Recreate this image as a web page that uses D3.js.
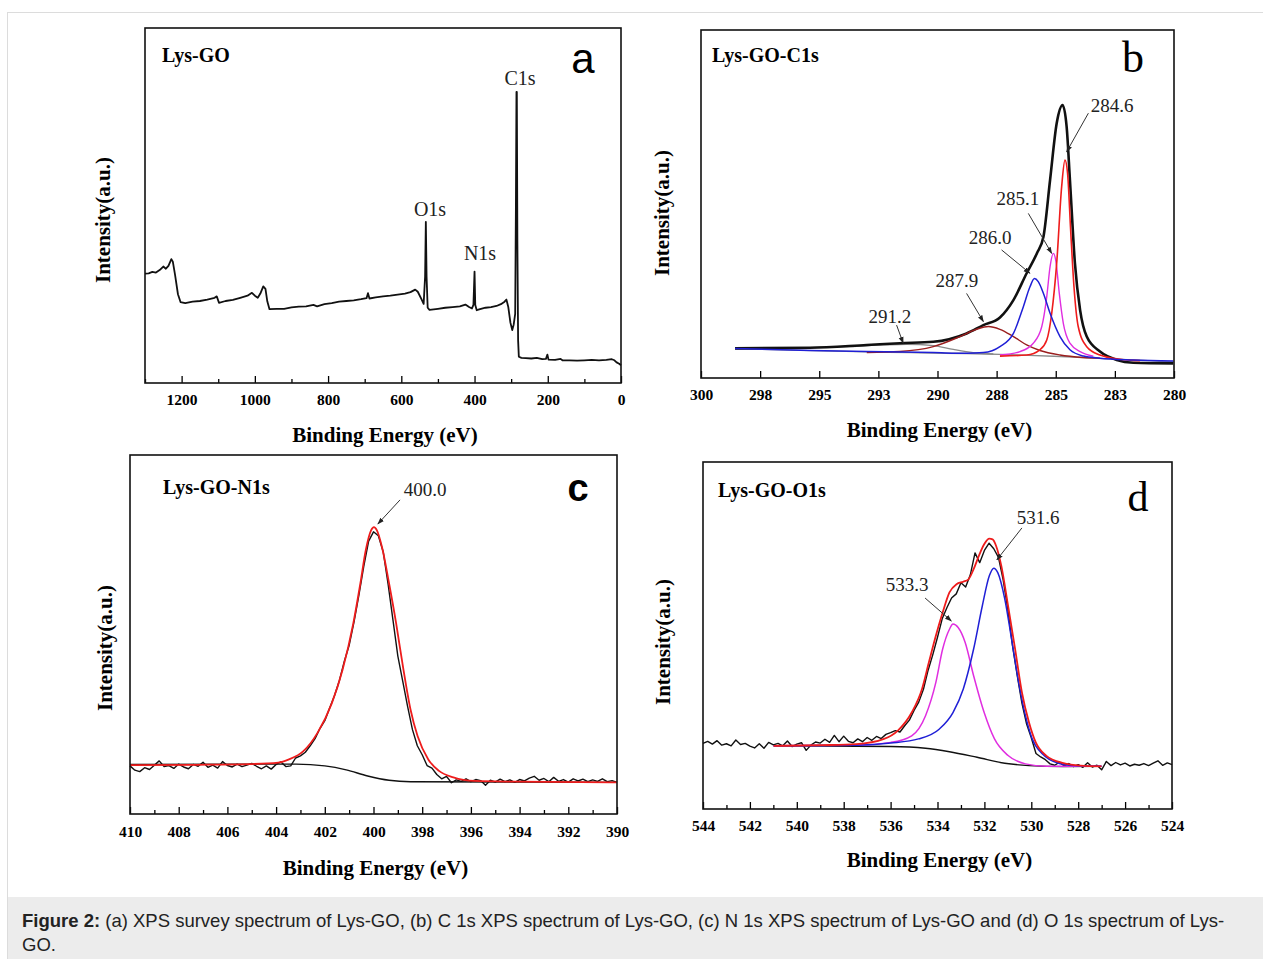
<!DOCTYPE html>
<html>
<head>
<meta charset="utf-8">
<script src="https://cdn.jsdelivr.net/npm/d3@7"></script>
<style>
  body { margin: 0; background: #fff; }
</style>
</head>
<body>
<div id="chart"></div>
<script>
// ---- data (eV, intensity in % of frame height) ----

// (a) survey spectrum
var surveyData = [
  [1300, 30.8], [1290, 30.9], [1280, 31.3], [1270, 31.1], [1260, 31.8], [1250, 32.8], [1243, 32.2],
  [1236, 33.0], [1228, 34.9], [1224, 34.2], [1218, 30.5], [1210, 25.0], [1203, 22.8], [1190, 22.5],
  [1170, 22.9], [1150, 23.1], [1130, 23.5], [1110, 24.0], [1104, 24.4], [1098, 22.6], [1080, 23.1],
  [1060, 23.4], [1040, 24.0], [1020, 24.6], [1008, 25.4], [1000, 24.6], [992, 24.0], [985, 25.2],
  [977, 27.2], [971, 26.5], [966, 23.0], [960, 20.8], [940, 20.9], [920, 20.9], [900, 21.3],
  [880, 21.5], [860, 21.6], [840, 22.0], [830, 21.6], [810, 22.2], [790, 22.5], [770, 22.9],
  [750, 23.1], [730, 23.3], [710, 23.6], [695, 23.9], [691, 25.3], [687, 23.8], [670, 24.1],
  [650, 24.4], [630, 24.6], [610, 24.9], [590, 25.2], [575, 25.6], [562, 26.3], [555, 25.7],
  [545, 23.6], [539, 22.3], [535, 30.0], [533, 45.4], [531, 30.0], [528, 21.2], [523, 20.6],
  [500, 20.9], [480, 21.2], [460, 21.4], [440, 21.6], [425, 22.1], [415, 21.4], [407, 21.0],
  [403, 22.0], [400, 31.4], [398, 22.0], [394, 20.5], [385, 20.8], [370, 21.2], [355, 21.4],
  [340, 21.7], [328, 22.2], [318, 22.9], [313, 23.5], [308, 21.5], [302, 17.0], [297, 14.9],
  [293, 16.5], [289, 19.5], [287, 50.0], [285.5, 82.0], [284.5, 82.0], [283, 40.0], [281, 12.0],
  [279, 7.4], [272, 7.1], [260, 7.0], [245, 6.9], [230, 7.1], [215, 6.7], [205, 6.8], [201, 8.0],
  [198, 6.6], [180, 6.5], [165, 6.8], [160, 6.4], [140, 6.4], [120, 6.3], [100, 6.4], [80, 6.5],
  [60, 6.4], [40, 6.5], [25, 6.7], [18, 6.4], [12, 5.8], [5, 5.4], [0, 5.0]
];
var surveyPeaks = ["C1s", "O1s", "N1s"];
var surveyTicks = [1200, 1000, 800, 600, 400, 200, 0];
var surveyMinor = [1300, 1100, 900, 700, 500, 300, 100];

// (b) C 1s
var c1sRaw = [
  [298.56, 8.5], [295.39, 8.7], [292.99, 9.5], [291.59, 10.0], [290.18, 10.4], [288.77, 12.8],
  [288.06, 15.2], [287.36, 17.4], [286.79, 22.4], [286.23, 30.1], [285.80, 35.8], [285.52, 40.6],
  [285.24, 56.9], [284.96, 73.2], [284.71, 78.4], [284.54, 72.2], [284.40, 56.9], [284.19, 33.0],
  [283.97, 19.5], [283.69, 11.9], [283.13, 7.6], [282.42, 5.2], [281.72, 4.4], [280.03, 4.2]
];
var c1sBg = [[298.56, 8.4], [292.99, 7.5], [287.36, 6.8], [284.54, 6.1], [282.42, 5.4], [280.03, 4.6]];
var c1s291 = [
  [295.39, 8.7], [293.70, 9.0], [292.29, 9.5], [291.31, 9.7], [290.18, 9.3], [289.33, 8.2],
  [288.49, 7.3], [287.64, 6.9]
];
var c1s287 = [
  [292.99, 7.3], [291.59, 7.6], [290.18, 9.0], [289.05, 11.9], [288.35, 14.0], [287.85, 14.8],
  [287.36, 14.0], [286.79, 11.9], [286.23, 9.5], [285.67, 7.9], [284.82, 6.6], [283.83, 5.9], [283.13, 5.7]
];
var c1s286 = [
  [298.56, 8.5], [295.39, 7.9], [292.99, 7.6], [290.18, 7.3], [288.77, 7.1], [288.06, 7.3],
  [287.36, 9.0], [286.79, 12.8], [286.37, 20.5], [286.09, 26.2], [285.90, 28.6], [285.74, 27.7],
  [285.52, 24.3], [285.24, 18.6], [284.82, 11.9], [284.40, 8.1], [283.83, 6.3], [283.13, 5.7],
  [281.72, 5.2], [280.03, 4.9]
];
var c1s285 = [
  [287.36, 6.6], [286.51, 7.6], [285.95, 10.0], [285.59, 14.8], [285.38, 23.4], [285.24, 32.0],
  [285.10, 35.8], [284.99, 33.4], [284.85, 24.3], [284.68, 15.7], [284.40, 10.0], [283.97, 7.6], [283.41, 6.3]
];
var c1s284 = [
  [287.36, 6.3], [286.23, 6.6], [285.67, 8.1], [285.38, 10.9], [285.17, 18.6], [284.96, 33.0],
  [284.75, 55.0], [284.61, 62.6], [284.50, 58.8], [284.37, 42.5], [284.23, 26.3], [284.05, 14.8],
  [283.69, 9.0], [283.13, 6.6], [282.28, 5.4], [281.44, 5.0]
];
var c1sLabels = ["284.6", "285.1", "286.0", "287.9", "291.2"];
var c1sTicks = [300, 297.5, 295, 292.5, 290, 287.5, 285, 282.5, 280];

// (c) N 1s
var n1sRaw = [
  [410.0, 13.4], [409.8, 12.2], [409.6, 11.8], [409.4, 12.9], [409.2, 12.4], [409.0, 13.6],
  [408.8, 14.8], [408.6, 13.2], [408.4, 13.5], [408.2, 12.7], [408.0, 13.9], [407.8, 13.1],
  [407.6, 12.6], [407.4, 13.8], [407.2, 13.3], [407.0, 14.4], [406.8, 13.0], [406.6, 13.6],
  [406.4, 12.8], [406.2, 14.6], [406.0, 13.5], [405.8, 13.1], [405.6, 13.9], [405.4, 13.2],
  [405.2, 13.6], [405.0, 14.1], [404.8, 13.3], [404.6, 12.6], [404.4, 13.4], [404.2, 12.5],
  [404.0, 13.8], [403.8, 14.5], [403.6, 13.2], [403.4, 13.4], [403.2, 15.6], [403.0, 16.2],
  [402.8, 17.2], [402.6, 19.0], [402.4, 21.0], [402.2, 23.8], [402.0, 26.0], [401.8, 29.5],
  [401.6, 33.0], [401.4, 37.2], [401.2, 42.5], [401.0, 47.0], [400.8, 53.5], [400.6, 61.0],
  [400.4, 69.0], [400.2, 76.0], [400.0, 78.6], [399.8, 77.5], [399.6, 73.0], [399.4, 64.0],
  [399.2, 54.0], [399.0, 44.0], [398.8, 37.0], [398.6, 30.0], [398.4, 23.5], [398.2, 19.0],
  [398.0, 16.5], [397.8, 13.5], [397.6, 12.8], [397.4, 11.0], [397.2, 9.8], [397.0, 10.5],
  [396.8, 8.7], [396.6, 9.5], [396.4, 9.1], [396.2, 9.8], [396.0, 9.0], [395.8, 9.6],
  [395.6, 9.3], [395.4, 8.0], [395.2, 9.4], [395.0, 8.9], [394.8, 9.7], [394.6, 9.0],
  [394.4, 9.5], [394.2, 8.8], [394.0, 9.6], [393.8, 9.2], [393.6, 10.0], [393.4, 10.5],
  [393.2, 9.4], [393.0, 9.9], [392.8, 9.0], [392.6, 10.2], [392.4, 9.1], [392.2, 9.6],
  [392.0, 8.9], [391.8, 9.8], [391.6, 9.2], [391.4, 9.7], [391.2, 9.0], [391.0, 9.5],
  [390.8, 9.1], [390.6, 9.8], [390.4, 9.0], [390.2, 9.3], [390.0, 8.8]
];
var n1sFit = [
  [410.0, 13.6], [407.29, 13.7], [405.08, 13.9], [403.91, 14.3], [403.47, 15.2], [402.88, 17.5],
  [402.30, 22.6], [401.71, 30.9], [401.27, 40.2], [400.83, 53.1], [400.54, 64.2], [400.32, 73.4],
  [400.10, 79.0], [399.98, 79.9], [399.86, 79.0], [399.65, 74.3], [399.36, 64.2], [399.07, 53.1],
  [398.77, 40.2], [398.48, 29.1], [398.19, 21.7], [397.75, 15.2], [397.31, 12.0], [396.72, 10.2],
  [395.84, 9.2], [394.08, 9.0], [390.0, 8.8]
];
var n1sBg = [[410.0, 13.8], [403.18, 13.9], [402.0, 13.4], [401.12, 12.3], [400.24, 10.6], [399.36, 9.4], [398.48, 9.0], [390.0, 8.8]];
var n1sLabels = ["400.0"];
var n1sTicks = [410, 408, 406, 404, 402, 400, 398, 396, 394, 392, 390];
var n1sMinor = [409, 407, 405, 403, 401, 399, 397, 395, 393, 391];

// (d) O 1s
var o1sRaw = [
  [544.0, 18.9], [543.8, 19.5], [543.6, 18.7], [543.4, 19.7], [543.2, 18.4], [543.0, 18.8],
  [542.8, 18.2], [542.6, 19.9], [542.4, 18.6], [542.2, 18.9], [542.0, 18.1], [541.8, 17.6],
  [541.6, 18.8], [541.4, 17.5], [541.2, 19.2], [541.0, 18.5], [540.8, 18.9], [540.6, 18.2],
  [540.4, 19.6], [540.2, 18.0], [540.0, 18.7], [539.8, 19.1], [539.6, 16.9], [539.4, 18.4],
  [539.2, 19.3], [539.0, 19.0], [538.8, 20.1], [538.6, 19.2], [538.4, 21.2], [538.2, 19.4],
  [538.0, 21.0], [537.8, 19.5], [537.6, 19.1], [537.4, 20.2], [537.2, 19.4], [537.0, 20.6],
  [536.8, 19.8], [536.6, 20.9], [536.4, 20.3], [536.2, 21.5], [536.0, 22.0], [535.8, 22.6],
  [535.6, 22.2], [535.4, 24.0], [535.2, 25.6], [535.0, 28.4], [534.8, 30.8], [534.6, 34.5],
  [534.4, 40.0], [534.2, 44.5], [534.0, 49.5], [533.8, 54.8], [533.6, 58.0], [533.4, 60.8],
  [533.2, 62.0], [533.0, 65.2], [532.8, 64.0], [532.6, 67.5], [532.4, 73.8], [532.2, 71.0],
  [532.0, 74.5], [531.8, 76.6], [531.6, 75.0], [531.4, 72.5], [531.2, 66.0], [531.0, 57.5],
  [530.8, 47.0], [530.6, 38.5], [530.4, 30.5], [530.2, 24.5], [530.0, 20.5], [529.8, 16.0],
  [529.6, 15.0], [529.4, 14.2], [529.2, 13.0], [529.0, 12.6], [528.8, 13.5], [528.6, 12.4],
  [528.4, 13.1], [528.2, 12.2], [528.0, 12.8], [527.8, 12.0], [527.6, 13.3], [527.4, 12.1],
  [527.2, 12.6], [527.0, 11.3], [526.8, 13.7], [526.6, 12.5], [526.4, 13.4], [526.2, 12.7],
  [526.0, 13.2], [525.8, 12.4], [525.6, 12.9], [525.4, 12.6], [525.2, 13.1], [525.0, 12.5],
  [524.8, 13.2], [524.6, 13.9], [524.4, 12.6], [524.2, 13.3], [524.0, 12.8]
];
var o1sFit = [
  [540.99, 18.2], [538.93, 18.4], [537.46, 18.7], [536.28, 20.2], [535.69, 22.6], [535.10, 27.8],
  [534.66, 34.6], [534.37, 42.2], [534.07, 49.9], [533.78, 56.6], [533.49, 62.4], [533.19, 64.8],
  [532.90, 65.5], [532.68, 66.2], [532.46, 69.1], [532.24, 72.9], [532.01, 76.3], [531.79, 77.9],
  [531.65, 77.7], [531.50, 75.8], [531.28, 70.1], [530.99, 58.5], [530.69, 46.1], [530.40, 33.6],
  [530.10, 25.0], [529.81, 19.2], [529.37, 15.4], [528.63, 13.2], [527.90, 12.5], [527.01, 12.3]
];
var o1s531 = [
  [540.99, 18.2], [537.46, 18.4], [535.99, 19.0], [534.81, 20.2], [533.93, 23.0], [533.34, 27.8],
  [532.90, 34.6], [532.46, 46.1], [532.09, 58.5], [531.79, 67.2], [531.60, 69.4], [531.43, 68.1],
  [531.13, 60.5], [530.84, 48.9], [530.54, 36.5], [530.25, 26.9], [529.96, 20.2], [529.51, 15.8],
  [528.93, 13.4], [528.19, 12.5], [527.01, 12.3]
];
var o1s533 = [
  [540.99, 18.2], [537.46, 18.4], [535.99, 19.2], [535.10, 21.1], [534.51, 26.9], [534.07, 36.5],
  [533.78, 46.1], [533.49, 51.8], [533.34, 53.3], [533.12, 52.3], [532.82, 48.0], [532.46, 38.4],
  [532.01, 27.8], [531.57, 20.2], [530.99, 15.4], [530.25, 13.0], [529.37, 12.3], [527.01, 12.3]
];
var o1sBg = [[540.99, 18.2], [535.99, 18.0], [534.51, 17.5], [533.49, 16.5], [532.31, 14.9], [531.13, 13.2], [530.10, 12.5], [528.63, 12.2], [527.01, 12.3]];
var o1sLabels = ["533.3", "531.6"];
var o1sTicks = [544, 542, 540, 538, 536, 534, 532, 530, 528, 526, 524];
var o1sMinor = [543, 541, 539, 537, 535, 533, 531, 529, 527, 525];

// ---- drawing ----
var W = 1263, H = 959;
var serif = "'Liberation Serif', 'Times New Roman', serif";
var sans = "'Liberation Sans', Arial, sans-serif";
var RED = "#ee1c1c", BLUE = "#1f1fd6", MAG = "#e02ee0", BROWN = "#9a1e1e", GRAY = "#8a8a8a";

var svg = d3.select("#chart").append("svg")
  .attr("width", W)
  .attr("height", H);

svg.append("defs").append("marker")
  .attr("id", "arr")
  .attr("viewBox", "0 0 10 10")
  .attr("refX", 9).attr("refY", 5)
  .attr("markerWidth", 7).attr("markerHeight", 7)
  .attr("orient", "auto")
  .append("path").attr("d", "M0,1.5 L10,5 L0,8.5 z").attr("fill", "#222");

// page frame + caption strip
svg.append("rect").attr("x", 7.5).attr("y", 12.5).attr("width", W).attr("height", H)
  .attr("fill", "none").attr("stroke", "#dcdcdc");
svg.append("rect").attr("x", 8).attr("y", 897).attr("width", W - 8).attr("height", 62).attr("fill", "#ececec");

var cap = svg.append("text").attr("x", 22).attr("y", 927)
  .attr("font-family", sans).attr("font-size", 18.5).attr("fill", "#222");
cap.append("tspan").attr("font-weight", "bold").text("Figure 2:");
cap.append("tspan").text(" (a) XPS survey spectrum of Lys-GO, (b) C 1s XPS spectrum of Lys-GO, (c) N 1s XPS spectrum of Lys-GO and (d) O 1s spectrum of Lys-");
svg.append("text").attr("x", 22).attr("y", 951)
  .attr("font-family", sans).attr("font-size", 18.5).attr("fill", "#222").text("GO.");

function drawPanel(p) {
  var x = d3.scaleLinear().domain(p.domain).range([p.l, p.r]);
  var y = d3.scaleLinear().domain([0, 100]).range([p.b, p.t]);
  var g = svg.append("g");

  if (p.minor) {
    g.append("g").attr("transform", "translate(0," + p.b + ")")
      .call(d3.axisBottom(x).tickValues(p.minor).tickSize(-4).tickFormat(""))
      .call(function(s) { s.select(".domain").remove(); s.selectAll("line").attr("stroke-width", 1.3); });
  }
  g.append("g").attr("transform", "translate(0," + p.b + ")")
    .call(d3.axisBottom(x).tickValues(p.ticks).tickSize(-7).tickPadding(p.pad).tickFormat(p.fmt))
    .call(function(s) {
      s.select(".domain").remove();
      s.selectAll("line").attr("stroke-width", 1.3);
      s.selectAll("text").attr("font-family", serif).attr("font-weight", "bold")
        .attr("font-size", 15.5).attr("fill", "#000");
    });

  p.series.forEach(function(sr) {
    g.append("path").datum(sr.data)
      .attr("fill", "none").attr("stroke", sr.color).attr("stroke-width", sr.w || 1.4)
      .attr("stroke-linejoin", "round")
      .attr("d", d3.line().x(function(d) { return x(d[0]); }).y(function(d) { return y(d[1]); })
        .curve(sr.smooth ? d3.curveMonotoneX : d3.curveLinear));
  });

  g.append("rect").attr("x", p.l).attr("y", p.t).attr("width", p.r - p.l).attr("height", p.b - p.t)
    .attr("fill", "none").attr("stroke", "#111").attr("stroke-width", 1.6);

  g.append("text").attr("x", p.l + p.titleDx).attr("y", p.t + p.titleDy)
    .attr("font-family", serif).attr("font-weight", "bold").attr("font-size", 20)
    .attr("dominant-baseline", "central").text(p.title);

  g.append("text").attr("x", p.letterX).attr("y", p.t + p.letterDy)
    .attr("font-family", p.letterFont).attr("font-weight", p.letterWeight)
    .attr("font-size", p.letterSize).attr("text-anchor", "middle")
    .attr("dominant-baseline", "central").text(p.letter);

  g.append("text").attr("x", (p.l + p.r) / 2 + p.xtDx).attr("y", p.b + p.xtDy)
    .attr("font-family", serif).attr("font-weight", "bold").attr("font-size", 21)
    .attr("text-anchor", "middle").attr("dominant-baseline", "central").text("Binding Energy (eV)");

  g.append("text").attr("transform", "translate(" + p.ylX + "," + p.ylY + ") rotate(-90)")
    .attr("font-family", serif).attr("font-weight", "bold").attr("font-size", 21)
    .attr("text-anchor", "middle").attr("dominant-baseline", "central").text("Intensity(a.u.)");

  (p.notes || []).forEach(function(n, i) {
    var lbl = p.labels[i];
    if (n.tip) {
      g.append("line")
        .attr("x1", x(n.tail[0])).attr("y1", y(n.tail[1]))
        .attr("x2", x(n.tip[0])).attr("y2", y(n.tip[1]))
        .attr("stroke", "#333").attr("stroke-width", 1).attr("marker-end", "url(#arr)");
    }
    g.append("text").attr("x", x(n.at[0])).attr("y", y(n.at[1]))
      .attr("font-family", serif).attr("font-size", n.size || 19).attr("fill", "#222")
      .attr("text-anchor", "middle").attr("dominant-baseline", "central").text(lbl);
  });
}

var fmt0 = d3.format(".0f");

drawPanel({
  l: 145, r: 621, t: 28, b: 383, domain: [1300, 0], pad: 11,
  ticks: surveyTicks, minor: surveyMinor, fmt: fmt0,
  series: [{ data: surveyData, color: "#111", w: 1.8 }],
  title: "Lys-GO", titleDx: 17, titleDy: 27,
  letter: "a", letterX: 583, letterDy: 30, letterFont: sans, letterWeight: "normal", letterSize: 42,
  xtDx: 2, xtDy: 52, ylX: 103, ylY: 220,
  labels: surveyPeaks,
  notes: [{ at: [275.8, 85.9], size: 20 }, { at: [521.6, 49.0], size: 20 }, { at: [385, 36.6], size: 20 }]
});

drawPanel({
  l: 701, r: 1174, t: 30, b: 378, domain: [300, 280], pad: 11,
  ticks: c1sTicks, fmt: fmt0,
  series: [
    { data: c1sBg, color: GRAY, w: 1.3, smooth: true },
    { data: c1s291, color: GRAY, w: 1.3, smooth: true },
    { data: c1sRaw, color: "#111", w: 2.6, smooth: true },
    { data: c1s287, color: BROWN, w: 1.4, smooth: true },
    { data: c1s285, color: MAG, w: 1.4, smooth: true },
    { data: c1s284, color: RED, w: 1.6, smooth: true },
    { data: c1s286, color: BLUE, w: 1.5, smooth: true }
  ],
  title: "Lys-GO-C1s", titleDx: 11, titleDy: 25,
  letter: "b", letterX: 1133, letterDy: 27, letterFont: serif, letterWeight: "normal", letterSize: 44,
  xtDx: 2, xtDy: 52, ylX: 662, ylY: 213,
  labels: c1sLabels,
  notes: [
    { at: [282.62, 78.4], tail: [283.62, 76.1], tip: [284.54, 65.0] },
    { at: [286.60, 51.7], tail: [286.16, 47.3], tip: [285.17, 35.8] },
    { at: [287.78, 40.5], tail: [287.29, 36.8], tip: [286.09, 30.1] },
    { at: [289.18, 27.9], tail: [288.77, 24.3], tip: [288.06, 16.2] },
    { at: [292.01, 17.8], tail: [291.73, 15.2], tip: [291.45, 10.0] }
  ]
});

drawPanel({
  l: 130, r: 617, t: 455, b: 814, domain: [410, 390], pad: 12,
  ticks: n1sTicks, minor: n1sMinor, fmt: fmt0,
  series: [
    { data: n1sBg, color: "#111", w: 1.4, smooth: true },
    { data: n1sRaw, color: "#111", w: 1.4 },
    { data: n1sFit, color: RED, w: 1.8, smooth: true }
  ],
  title: "Lys-GO-N1s", titleDx: 33, titleDy: 32,
  letter: "c", letterX: 578, letterDy: 33, letterFont: sans, letterWeight: "bold", letterSize: 38,
  xtDx: 2, xtDy: 54, ylX: 105, ylY: 648,
  labels: n1sLabels,
  notes: [{ at: [397.88, 90.3], tail: [398.91, 87.5], tip: [399.82, 80.8] }]
});

drawPanel({
  l: 703, r: 1172, t: 462, b: 809, domain: [544, 524], pad: 11,
  ticks: o1sTicks, minor: o1sMinor, fmt: fmt0,
  series: [
    { data: o1sRaw, color: "#111", w: 1.4 },
    { data: o1sBg, color: "#111", w: 1.4, smooth: true },
    { data: o1s533, color: MAG, w: 1.5, smooth: true },
    { data: o1s531, color: BLUE, w: 1.5, smooth: true },
    { data: o1sFit, color: RED, w: 1.8, smooth: true }
  ],
  title: "Lys-GO-O1s", titleDx: 15, titleDy: 28,
  letter: "d", letterX: 1138, letterDy: 35, letterFont: serif, letterWeight: "normal", letterSize: 42,
  xtDx: 2, xtDy: 51, ylX: 663, ylY: 642,
  labels: o1sLabels,
  notes: [
    { at: [535.30, 64.6], tail: [534.53, 60.8], tip: [533.41, 54.2] },
    { at: [529.71, 84.1], tail: [530.40, 81.0], tip: [531.47, 71.8] }
  ]
});
</script>
</body>
</html>
